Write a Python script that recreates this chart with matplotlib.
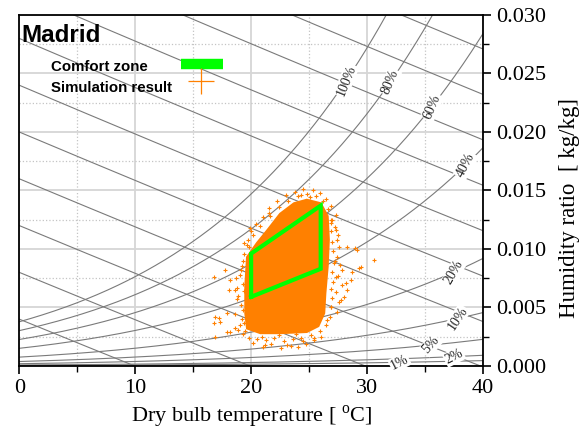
import numpy as np
import matplotlib
matplotlib.use('Agg')
import matplotlib.pyplot as plt
from matplotlib.ticker import MultipleLocator, FormatStrFormatter

plt.rcParams['mathtext.fontset'] = 'custom'
plt.rcParams['mathtext.rm'] = 'Liberation Serif'

# ---------------- data ----------------
city = "Madrid"
rh_levels = [0.01, 0.02, 0.05, 0.10, 0.20, 0.40, 0.60, 0.80, 1.00]
rh_label_t = [32.8, 37.5, 35.5, 37.8, 37.5, 38.5, 35.6, 32.0, 28.2]
rh_label_rot = [27, 27, 48, 56, 60, 62, 67, 67, 68]
enthalpy_levels = [10, 20, 30, 40, 50, 60, 70, 80, 90, 100, 110]

comfort_t = [20, 20, 26, 26, 20]
comfort_w = [0.0059, 0.0096, 0.0137, 0.0083, 0.0059]

# dense core of the simulation cloud (outline)
cloud_t = [19.65, 20.5, 21.4, 22.5, 23.7, 24.8, 26.0, 26.6, 26.7, 26.6, 26.4, 26.3,
           25.8, 24.8, 22.5, 20.8, 19.65, 19.5, 19.5]
cloud_w = [0.0093, 0.0105, 0.0116, 0.0130, 0.0139, 0.0142, 0.0139, 0.0128, 0.0108,
           0.0085, 0.0062, 0.0045, 0.0034, 0.0029, 0.0028, 0.0028, 0.0032, 0.0045, 0.0068]

# scattered simulation points around the core
sim_t = [16.77, 17.78, 18.21, 18.64, 16.91, 16.77, 17.93, 16.91, 21.52, 19.94, 19.65,
         27.0, 27.29, 27.43, 26.57, 25.41, 30.6, 29.16, 29.3, 28.58, 28.3, 27.72, 27.87,
         27.14, 28.3, 18.06, 17.35, 18.21, 18.64, 17.93, 17.2, 18.79, 19.36, 24.26, 25.1,
         29.0, 29.45, 28.73, 28.15, 28.0, 27.29, 26.85, 26.85, 21.2, 23.4, 24.7,
         19.2, 19.0, 19.3, 18.9, 19.1, 19.2, 19.0, 19.3, 19.8, 20.5, 21.3, 22.0, 22.8,
         23.6, 24.3, 25.2, 25.9, 26.5, 26.8, 26.9, 27.0, 26.9, 27.1, 27.0, 27.2, 27.1,
         27.0, 26.9, 26.9, 26.6, 26.2, 25.6, 24.8, 24.0, 23.2, 22.4, 21.6, 20.8, 20.2,
         19.8, 19.4,
         19.3, 19.1, 18.7, 19.4, 18.8, 19.3, 18.6, 19.4, 18.9, 19.5,
         20.2, 20.9, 21.7, 22.4, 23.1, 23.9, 24.5, 25.4, 26.0, 21.0, 22.6, 24.0,
         27.4, 27.6, 27.3, 27.8, 27.5, 27.7, 27.4, 27.6, 27.5, 27.2, 27.3, 26.9, 26.5, 26.3,
         25.9, 25.3, 24.5, 23.8, 23.0, 22.2, 21.5, 21.0, 20.4, 20.0, 19.7]
sim_w = [0.00763, 0.00821, 0.00735, 0.0065, 0.00421, 0.00365, 0.00293, 0.0025, 0.01305,
         0.01177, 0.01034, 0.01248, 0.01162, 0.01077, 0.00393, 0.00237, 0.00906, 0.00991,
         0.00835, 0.00735, 0.0065, 0.00564, 0.0082, 0.00878, 0.0102, 0.0065, 0.00379,
         0.00293, 0.00322, 0.0045, 0.00408, 0.00664, 0.01049, 0.01462, 0.01444,
         0.01006, 0.00849, 0.00806, 0.00707, 0.00592, 0.00763, 0.00507, 0.01248,
         0.0018, 0.0017, 0.0019,
         0.0085, 0.0078, 0.0070, 0.0060, 0.0052, 0.0040, 0.0035, 0.0027, 0.0024, 0.0023,
         0.0022, 0.0024, 0.0021, 0.0023, 0.0024, 0.0026, 0.0030, 0.0035, 0.0042, 0.0050,
         0.0058, 0.0066, 0.0072, 0.0080, 0.0090, 0.0098, 0.0106, 0.0115, 0.0122, 0.0134,
         0.0141, 0.0145, 0.0147, 0.0145, 0.0141, 0.0136, 0.0128, 0.0120, 0.0112, 0.0102,
         0.0096,
         0.0090, 0.0082, 0.0075, 0.0064, 0.0057, 0.0048, 0.0044, 0.0037, 0.0031, 0.0030,
         0.0020, 0.0025, 0.0019, 0.0026, 0.0018, 0.0027, 0.0021, 0.0022, 0.0025, 0.0016,
         0.0015, 0.0016,
         0.0046, 0.0055, 0.0063, 0.0069, 0.0077, 0.0086, 0.0093, 0.0102, 0.0112, 0.0119,
         0.0129, 0.0137, 0.0143, 0.0131,
         0.0148, 0.0150, 0.0151, 0.0149, 0.0146, 0.0141, 0.0135, 0.0127, 0.0121, 0.0115,
         0.0108]

x_ticks = [0, 10, 20, 30, 40]
y_ticks = [0.000, 0.005, 0.010, 0.015, 0.020, 0.025, 0.030]

# ---------------- psychrometrics ----------------
P_ATM = 101.325


def p_sat(t):
    return 0.61078 * np.exp(17.27 * t / (t + 237.3))


def w_of_rh(t, rh):
    ps = rh * p_sat(t)
    return 0.622 * ps / (P_ATM - ps)


ORANGE = '#ff8000'
GREEN = '#00ff00'
GRAY = '#7a7a7a'

fig = plt.figure(figsize=(5.83, 4.32), dpi=100)
ax = fig.add_axes([0.033, 0.153, 0.7955, 0.8125])
ax.set_xlim(0, 40)
ax.set_ylim(0, 0.030)

# grid
ax.set_axisbelow(True)
ax.xaxis.set_major_locator(MultipleLocator(10))
ax.xaxis.set_minor_locator(MultipleLocator(5))
ax.yaxis.set_major_locator(MultipleLocator(0.005))
ax.yaxis.set_minor_locator(MultipleLocator(0.0025))
ax.grid(which='major', color='#d6d6d6', lw=1.3, ls='-', zorder=0)
ax.grid(which='minor', color='#c4c4c4', lw=0.9, ls=':', zorder=0)

# enthalpy lines
tt = np.linspace(0, 40, 200)
for h in enthalpy_levels:
    ax.plot(tt, (h - 1.006 * tt) / (2501 + 1.86 * tt), color=GRAY, lw=0.8, zorder=1)

# RH curves
tt2 = np.linspace(0, 40, 400)
for rh in rh_levels:
    ax.plot(tt2, w_of_rh(tt2, rh), color=GRAY, lw=0.8, zorder=1)

# RH labels
for rh, t, rot in zip(rh_levels, rh_label_t, rh_label_rot):
    ax.text(t, w_of_rh(t, rh), f"{rh * 100:.0f}%", rotation=rot, rotation_mode='anchor',
            ha='center', va='center', fontsize=10, family='Liberation Serif',
            color='#222222', zorder=3,
            bbox=dict(facecolor='white', edgecolor='none', pad=0.6))

# simulation cloud
ax.fill(cloud_t, cloud_w, color=ORANGE, lw=1.5, zorder=4)
ax.plot(sim_t, sim_w, '+', color=ORANGE, ms=3.5, mew=0.8, zorder=4)

# comfort zone
ax.plot(comfort_t, comfort_w, color=GREEN, lw=3, zorder=5, solid_joinstyle='miter')

# axes styling
ax.yaxis.tick_right()
ax.yaxis.set_label_position('right')
ax.yaxis.set_major_formatter(FormatStrFormatter('%.3f'))
ax.set_xticks(x_ticks)
ax.set_yticks(y_ticks)
ax.tick_params(which='major', direction='out', length=6, width=1.2, labelsize=16,
               bottom=True, right=True, left=False, top=False)
ax.tick_params(which='minor', direction='out', length=4, width=1.0,
               bottom=True, right=True, left=False, top=False)
for lab in ax.get_xticklabels() + ax.get_yticklabels():
    lab.set_fontfamily('Liberation Serif')
for sp in ax.spines.values():
    sp.set_linewidth(1.3)

ax.set_xlabel('Dry bulb temperature [ $^{\\rm o}$C]', fontsize=16,
              family='Liberation Serif', labelpad=4)
ax.set_ylabel('Humidity ratio  [ kg/kg]', fontsize=16.5, family='Liberation Serif')
ax.yaxis.set_label_coords(1.163, 0.45)

ax.text(0.004, 0.975, city, transform=ax.transAxes, fontsize=17.5, fontweight='bold',
        family='Liberation Sans', va='top', ha='left', zorder=6)

# legend (manual, text left-aligned, symbols to the right)
leg_font = dict(family='Liberation Sans', weight='bold', size=10.8)
ax.text(0.068, 0.851, 'Comfort zone', transform=ax.transAxes, va='center', ha='left',
        zorder=6, **leg_font)
ax.text(0.068, 0.792, 'Simulation result', transform=ax.transAxes, va='center',
        ha='left', zorder=6, **leg_font)
ax.plot([0.349, 0.439], [0.860, 0.860], transform=ax.transAxes, color=GREEN, lw=7.5,
        solid_capstyle='butt', zorder=6)
ax.plot([0.392], [0.812], transform=ax.transAxes, color=ORANGE, ls='none', marker='+',
        ms=19, mew=0.9, zorder=6)

fig.savefig('out.png', dpi=100)
